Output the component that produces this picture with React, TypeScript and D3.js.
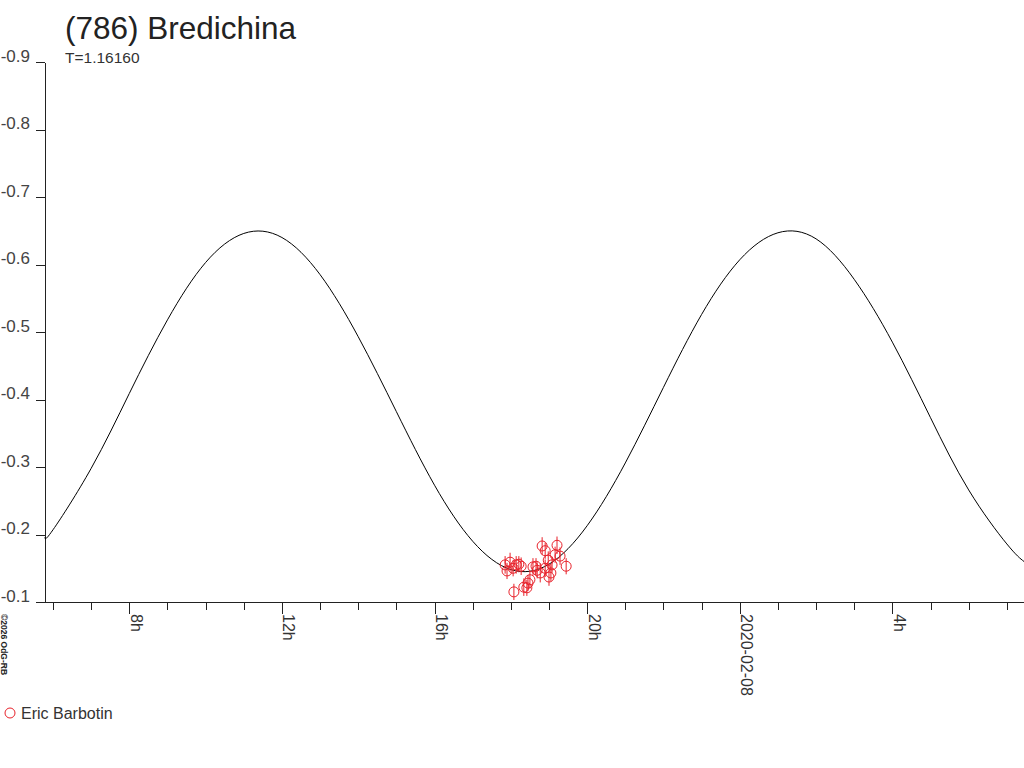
import React, { useEffect, useRef } from "react";
import * as d3 from "d3";

// hours since 2020-02-07 00:00
const curveHours = [5.79, 6, 7, 8, 9, 10, 11, 12, 13, 14, 15, 16, 17, 18, 19, 20, 21, 22, 23, 24, 25, 26, 27, 28, 29, 30, 31, 31.45];
const curveMag = [-0.196, -0.207, -0.298, -0.409, -0.518, -0.603, -0.646, -0.64, -0.585, -0.493, -0.382, -0.273, -0.19, -0.148, -0.156, -0.213, -0.306, -0.418, -0.526, -0.607, -0.647, -0.638, -0.578, -0.485, -0.373, -0.266, -0.186, -0.16];

const obsHours = [17.85, 17.9, 17.98, 18.06, 18.14, 18.21, 18.27, 18.08, 18.34, 18.45, 18.5, 18.42, 18.58, 18.69, 18.77, 18.66, 18.82, 18.9, 19.21, 19.16, 18.98, 19.08, 19.0, 19.05, 19.29, 19.45, 18.9];
const obsMag = [-0.155, -0.146, -0.159, -0.15, -0.155, -0.156, -0.153, -0.115, -0.122, -0.128, -0.133, -0.121, -0.152, -0.147, -0.143, -0.153, -0.183, -0.176, -0.184, -0.17, -0.162, -0.155, -0.137, -0.143, -0.168, -0.153, -0.15];
const obsErr = [0.013, 0.012, 0.014, 0.012, 0.013, 0.012, 0.013, 0.012, 0.013, 0.012, 0.013, 0.012, 0.013, 0.012, 0.014, 0.012, 0.013, 0.012, 0.013, 0.012, 0.013, 0.012, 0.013, 0.012, 0.013, 0.012, 0.013];

const yTicks = [-0.9, -0.8, -0.7, -0.6, -0.5, -0.4, -0.3, -0.2, -0.1];
const xMinorTicks = d3.range(6, 32);
const xMajorTicks = [8, 12, 16, 20, 24, 28];
const xMajorLabels = ["8h", "12h", "16h", "20h", "2020-02-08", "4h"];

const title = "(786) Bredichina";
const subtitle = "T=1.16160";
const observer = "Eric Barbotin";
const credit = "\u00a92026 OdG-RB";

const RED = "#e8212a";
const FONT = "'Liberation Sans', Arial, sans-serif";

export default function App() {
  const ref = useRef<SVGSVGElement>(null);

  useEffect(() => {
    if (!ref.current) return;
    draw(ref.current);
  }, []);

  return (
    <svg
      ref={ref}
      width={1024}
      height={768}
      style={{ position: "absolute", left: 0, top: 0, background: "#fff" }}
    />
  );
}

function draw(svg: SVGSVGElement) {
  const el = d3.select(svg);
  el.selectAll("*").remove();

  const x = d3.scaleLinear().domain([5.79, 31.45]).range([45, 1024]);
  const y = d3.scaleLinear().domain([-0.1, -0.9]).range([602, 62]);
  const axisY = y(-0.1);

  // Title
  el.append("text").attr("x", 65).attr("y", 39).attr("font-family", FONT).attr("font-size", 31.5).attr("fill", "#222").text(title);
  el.append("text").attr("x", 65).attr("y", 63).attr("font-family", FONT).attr("font-size", 15.5).attr("fill", "#333").text(subtitle);

  // Y axis
  const yAxis = el.append("g").attr("transform", `translate(45,0)`)
    .call(d3.axisLeft(y).tickValues(yTicks).tickSize(9).tickSizeOuter(0).tickFormat(d3.format(".1f")));
  yAxis.select(".domain").attr("stroke", "#222").attr("shape-rendering", "crispEdges");
  yAxis.selectAll(".tick line").attr("stroke", "#222").attr("shape-rendering", "crispEdges");
  yAxis.selectAll(".tick text")
    .attr("x", -15).attr("dy", "-0.05em")
    .attr("font-family", FONT).attr("font-size", 17).attr("fill", "#444")
    .text((d: any) => d3.format(".1f")(d).replace("\u2212", "-"));

  // X axis line
  el.append("line").attr("x1", 36).attr("x2", 1024).attr("y1", axisY).attr("y2", axisY)
    .attr("stroke", "#222").attr("shape-rendering", "crispEdges");

  const xAxisMinor = el.append("g").attr("transform", `translate(0,${axisY})`)
    .call(d3.axisBottom(x).tickValues(xMinorTicks.filter((h) => !xMajorTicks.includes(h))).tickSize(8).tickFormat(() => ""));
  xAxisMinor.select(".domain").remove();
  xAxisMinor.selectAll(".tick line").attr("stroke", "#222").attr("shape-rendering", "crispEdges");

  const xAxisMajor = el.append("g").attr("transform", `translate(0,${axisY})`)
    .call(d3.axisBottom(x).tickValues(xMajorTicks).tickSize(12).tickFormat((_, i) => xMajorLabels[i]));
  xAxisMajor.select(".domain").remove();
  xAxisMajor.selectAll(".tick line").attr("stroke", "#222").attr("shape-rendering", "crispEdges");
  xAxisMajor.selectAll(".tick text")
    .attr("x", 0).attr("y", 0).attr("dy", 0)
    .attr("transform", "translate(1,12) rotate(90)")
    .attr("text-anchor", "start")
    .attr("font-family", FONT).attr("font-size", 16).attr("fill", "#333");

  // Model curve
  const line = d3.line<number>()
    .x((_, i) => x(curveHours[i]))
    .y((d) => y(d))
    .curve(d3.curveNatural);
  el.append("path").datum(curveMag).attr("fill", "none").attr("stroke", "#000").attr("stroke-width", 1).attr("d", line);

  // Observations
  const obs = el.append("g");
  obsMag.forEach((m, i) => {
    const cx = x(obsHours[i]);
    obs.append("line")
      .attr("x1", cx).attr("x2", cx)
      .attr("y1", y(m - obsErr[i])).attr("y2", y(m + obsErr[i]))
      .attr("stroke", RED).attr("stroke-width", 1);
    obs.append("circle")
      .attr("cx", cx).attr("cy", y(m)).attr("r", 5)
      .attr("fill", "none").attr("stroke", RED).attr("stroke-width", 1);
  });

  // Legend
  el.append("circle").attr("cx", 10).attr("cy", 713).attr("r", 5).attr("fill", "none").attr("stroke", RED);
  el.append("text").attr("x", 21).attr("y", 719).attr("font-family", FONT).attr("font-size", 16).attr("fill", "#333").text(observer);

  // Credit
  el.append("text")
    .attr("transform", "translate(1,614) rotate(90)")
    .attr("font-family", FONT).attr("font-size", 8.5).attr("font-weight", "bold").attr("fill", "#222")
    .text(credit);
}
